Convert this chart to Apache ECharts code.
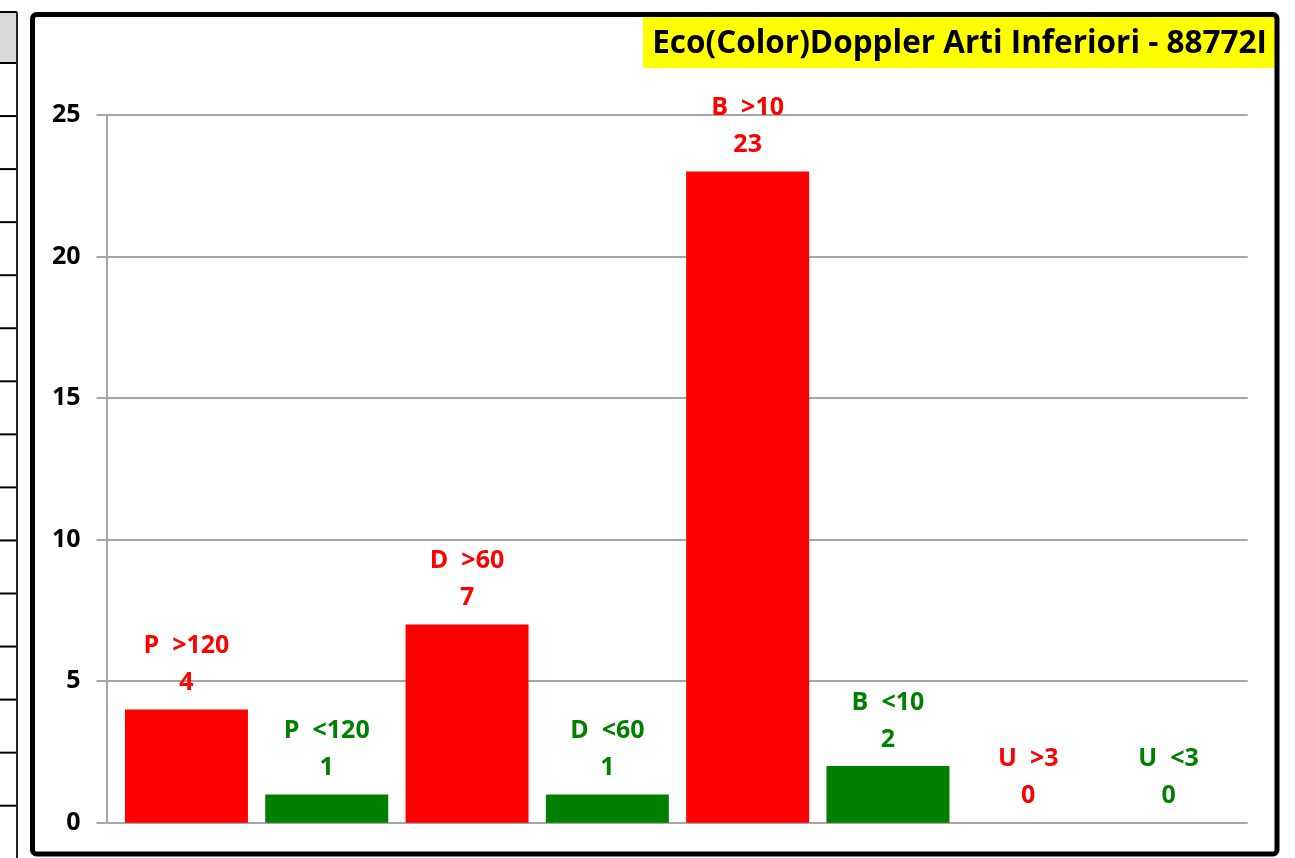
<!DOCTYPE html>
<html>
<head>
<meta charset="utf-8">
<script src="https://cdn.jsdelivr.net/npm/echarts@6/dist/echarts.min.js"></script>
<style>
  html, body { margin: 0; padding: 0; background: #ffffff; }
  #chart { width: 1295px; height: 858px; }
</style>
</head>
<body>
<div id="chart"></div>
<script>
// Esami eco(color)doppler arti inferiori: conteggi per classe
const categories = ['P  >120', 'P  <120', 'D  >60', 'D  <60', 'B  >10', 'B  <10', 'U  >3', 'U  <3'];
const counts = [4, 1, 7, 1, 23, 2, 0, 0];
const barColors = ['#FF0000', '#008000', '#FF0000', '#008000', '#FF0000', '#008000', '#FF0000', '#008000'];
const yTicks = [0, 5, 10, 15, 20, 25];
const titleText = 'Eco(Color)Doppler Arti Inferiori - 88772I';

const FONT = '"Open Sans", Lato, "Liberation Sans", sans-serif';

const chart = echarts.init(document.getElementById('chart'), null, { renderer: 'canvas' });

// Side table fragment at the left edge
const rowLines = [];
for (let k = 0; k < 16; k++) {
  const y = 12 + (k === 0 ? 0 : 51 + (k - 1) * 53.05);
  rowLines.push({
    type: 'line',
    shape: { x1: 0, y1: y, x2: 17, y2: y },
    style: { stroke: '#000000', lineWidth: 2 },
    silent: true
  });
}

const option = {
  backgroundColor: '#ffffff',
  animation: false,
  graphic: [
    { type: 'rect', shape: { x: 0, y: 13, width: 16, height: 50 }, style: { fill: '#D9D9D9' }, silent: true },
    ...rowLines,
    { type: 'line', shape: { x1: 17, y1: 12, x2: 17, y2: 858 }, style: { stroke: '#222222', lineWidth: 2 }, silent: true },
    // chart frame
    { type: 'rect', shape: { x: 32.5, y: 14.5, width: 1244.5, height: 839.5, r: 4 },
      style: { fill: null, stroke: '#000000', lineWidth: 5 }, silent: true, z: 10 },
    // title box
    { type: 'rect', shape: { x: 643, y: 17, width: 632, height: 51 }, style: { fill: '#FFFF00' }, silent: true, z: 5 },
    { type: 'text', x: 1267, y: 44, z: 6,
      style: { text: titleText, fill: '#000000', font: 'bold 31.5px ' + FONT, textAlign: 'right', textVerticalAlign: 'middle' },
      silent: true }
  ],
  grid: [
    { left: 116.3, top: 115, width: 1122.4, height: 707.7, containLabel: false },
    { left: 106.5, top: 115, width: 1141.2, height: 707.7, containLabel: false }
  ],
  xAxis: [
    { gridIndex: 0, type: 'category', data: categories, show: false },
    { gridIndex: 1, type: 'value', show: false, min: 0, max: 1 }
  ],
  yAxis: [
    { gridIndex: 0, type: 'value', min: 0, max: 25, interval: 5, show: false },
    {
      gridIndex: 1, type: 'value', min: yTicks[0], max: yTicks[yTicks.length - 1], interval: 5,
      axisLine: { show: true, lineStyle: { color: '#A6A6A6', width: 2 } },
      axisTick: { show: true, length: 10, lineStyle: { color: '#A6A6A6', width: 2 } },
      axisLabel: { color: '#000000', fontFamily: FONT, fontWeight: 'bold', fontSize: 25, margin: 26 },
      splitLine: { show: true, lineStyle: { color: '#A6A6A6', width: 2 } }
    }
  ],
  series: [
    {
      type: 'bar',
      xAxisIndex: 0,
      yAxisIndex: 0,
      barWidth: 123,
      data: counts.map((v, i) => ({
        value: v,
        itemStyle: { color: barColors[i] },
        label: { color: barColors[i] }
      })),
      label: {
        show: true,
        position: 'top',
        distance: 8,
        formatter: '{b}\n{c}',
        fontFamily: FONT,
        fontWeight: 'bold',
        fontSize: 25,
        lineHeight: 37,
        align: 'center'
      },
      z: 3
    }
  ]
};

chart.setOption(option);
</script>
</body>
</html>
